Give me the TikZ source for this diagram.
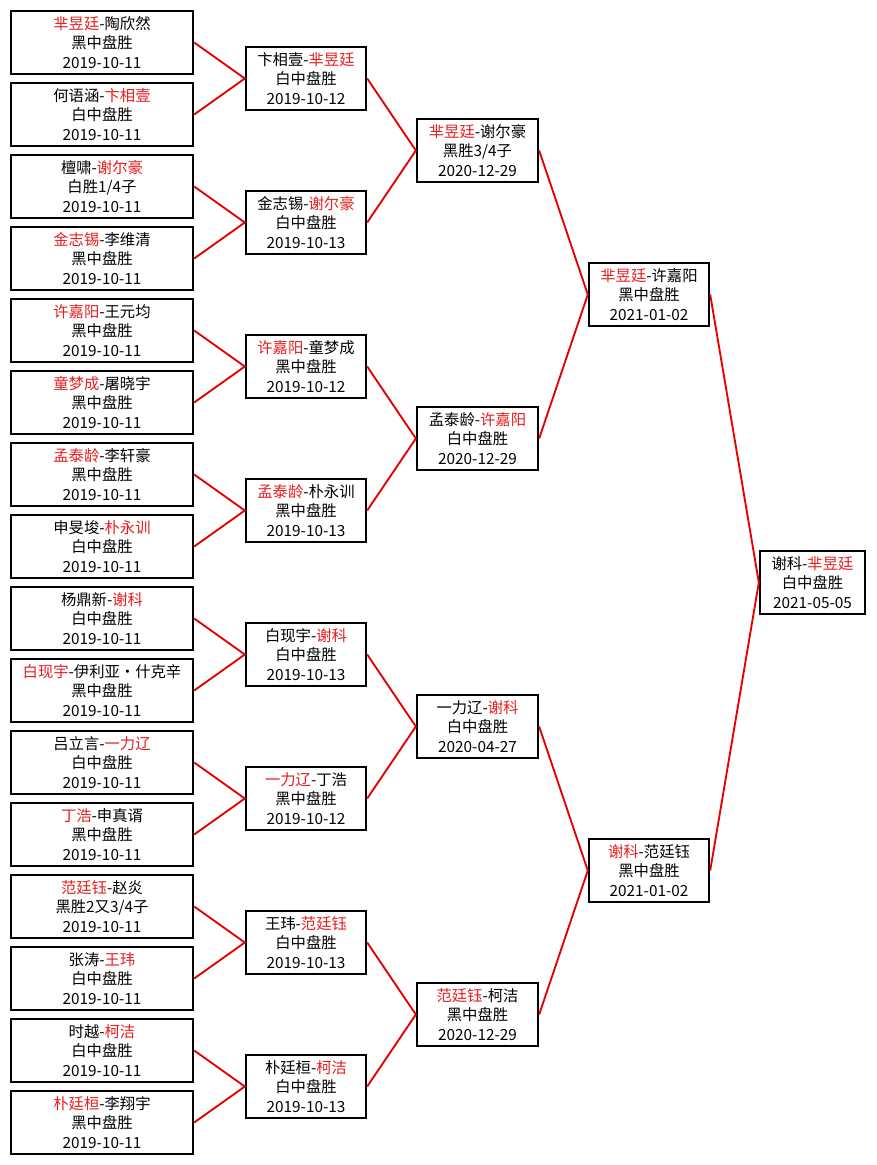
\documentclass[tikz,border=0pt]{standalone}
\usepackage{fontspec}
\setmainfont{Noto Sans CJK SC}
\newcommand\rn[1]{\textcolor{namered}{#1}}
\definecolor{namered}{RGB}{230,30,30}
\definecolor{linkred}{RGB}{230,0,0}
\tikzset{
  box/.style={draw=black, line width=1.5pt, fill=white, align=center, inner sep=0pt,
    minimum height=47.6pt, font=\fontsize{11.5pt}{14.6pt}\selectfont},
  wa/.style={box, minimum width=136.8pt},
  wb/.style={box, minimum width=90.3pt},
  wc/.style={box, minimum width=91pt},
  wd/.style={box, minimum width=90.3pt},
  we/.style={box, minimum width=79pt},
  link/.style={draw=linkred, line width=1.4pt}
}
\begin{document}
\begin{tikzpicture}[x=0.75pt,y=-0.75pt]
\fill[white] (0,0) rectangle (876,1165);
\useasboundingbox (0,0) rectangle (876,1165);
% column 1
\node[wa] (a1)  at (102,42.5)   {\rn{芈昱廷}-陶欣然\\黑中盘胜\\2019-10-11};
\node[wa] (a2)  at (102,114.5)  {何语涵-\rn{卞相壹}\\白中盘胜\\2019-10-11};
\node[wa] (a3)  at (102,186.5)  {檀啸-\rn{谢尔豪}\\白胜1/4子\\2019-10-11};
\node[wa] (a4)  at (102,258.5)  {\rn{金志锡}-李维清\\黑中盘胜\\2019-10-11};
\node[wa] (a5)  at (102,330.5)  {\rn{许嘉阳}-王元均\\黑中盘胜\\2019-10-11};
\node[wa] (a6)  at (102,402.5)  {\rn{童梦成}-屠晓宇\\黑中盘胜\\2019-10-11};
\node[wa] (a7)  at (102,474.5)  {\rn{孟泰龄}-李轩豪\\黑中盘胜\\2019-10-11};
\node[wa] (a8)  at (102,546.5)  {申旻埈-\rn{朴永训}\\白中盘胜\\2019-10-11};
\node[wa] (a9)  at (102,618.5)  {杨鼎新-\rn{谢科}\\白中盘胜\\2019-10-11};
\node[wa] (a10) at (102,690.5)  {\rn{白现宇}-伊利亚·什克辛\\黑中盘胜\\2019-10-11};
\node[wa] (a11) at (102,762.5)  {吕立言-\rn{一力辽}\\白中盘胜\\2019-10-11};
\node[wa] (a12) at (102,834.5)  {\rn{丁浩}-申真谞\\黑中盘胜\\2019-10-11};
\node[wa] (a13) at (102,906.5)  {\rn{范廷钰}-赵炎\\黑胜2又3/4子\\2019-10-11};
\node[wa] (a14) at (102,978.5)  {张涛-\rn{王玮}\\白中盘胜\\2019-10-11};
\node[wa] (a15) at (102,1050.5) {时越-\rn{柯洁}\\白中盘胜\\2019-10-11};
\node[wa] (a16) at (102,1122.5) {\rn{朴廷桓}-李翔宇\\黑中盘胜\\2019-10-11};
% column 2
\node[wb] (b1) at (306,78.5)   {卞相壹-\rn{芈昱廷}\\白中盘胜\\2019-10-12};
\node[wb] (b2) at (306,222.5)  {金志锡-\rn{谢尔豪}\\白中盘胜\\2019-10-13};
\node[wb] (b3) at (306,366.5)  {\rn{许嘉阳}-童梦成\\黑中盘胜\\2019-10-12};
\node[wb] (b4) at (306,510.5)  {\rn{孟泰龄}-朴永训\\黑中盘胜\\2019-10-13};
\node[wb] (b5) at (306,654.5)  {白现宇-\rn{谢科}\\白中盘胜\\2019-10-13};
\node[wb] (b6) at (306,798.5)  {\rn{一力辽}-丁浩\\黑中盘胜\\2019-10-12};
\node[wb] (b7) at (306,942.5)  {王玮-\rn{范廷钰}\\白中盘胜\\2019-10-13};
\node[wb] (b8) at (306,1086.5) {朴廷桓-\rn{柯洁}\\白中盘胜\\2019-10-13};
% column 3
\node[wc] (c1) at (477.5,150.5)  {\rn{芈昱廷}-谢尔豪\\黑胜3/4子\\2020-12-29};
\node[wc] (c2) at (477.5,438.5)  {孟泰龄-\rn{许嘉阳}\\白中盘胜\\2020-12-29};
\node[wc] (c3) at (477.5,726.5)  {一力辽-\rn{谢科}\\白中盘胜\\2020-04-27};
\node[wc] (c4) at (477.5,1014.5) {\rn{范廷钰}-柯洁\\黑中盘胜\\2020-12-29};
% column 4
\node[wd] (d1) at (649,294.5) {\rn{芈昱廷}-许嘉阳\\黑中盘胜\\2021-01-02};
\node[wd] (d2) at (649,870.5) {\rn{谢科}-范廷钰\\黑中盘胜\\2021-01-02};
% final
\node[we] (e1) at (812.5,582.5) {谢科-\rn{芈昱廷}\\白中盘胜\\2021-05-05};
% connectors
\draw[link] (a1.east) -- (b1.west) -- (a2.east);
\draw[link] (a3.east) -- (b2.west) -- (a4.east);
\draw[link] (a5.east) -- (b3.west) -- (a6.east);
\draw[link] (a7.east) -- (b4.west) -- (a8.east);
\draw[link] (a9.east) -- (b5.west) -- (a10.east);
\draw[link] (a11.east) -- (b6.west) -- (a12.east);
\draw[link] (a13.east) -- (b7.west) -- (a14.east);
\draw[link] (a15.east) -- (b8.west) -- (a16.east);
\draw[link] (b1.east) -- (c1.west) -- (b2.east);
\draw[link] (b3.east) -- (c2.west) -- (b4.east);
\draw[link] (b5.east) -- (c3.west) -- (b6.east);
\draw[link] (b7.east) -- (c4.west) -- (b8.east);
\draw[link] (c1.east) -- (d1.west) -- (c2.east);
\draw[link] (c3.east) -- (d2.west) -- (c4.east);
\draw[link] (d1.east) -- (e1.west) -- (d2.east);
\end{tikzpicture}
\end{document}
